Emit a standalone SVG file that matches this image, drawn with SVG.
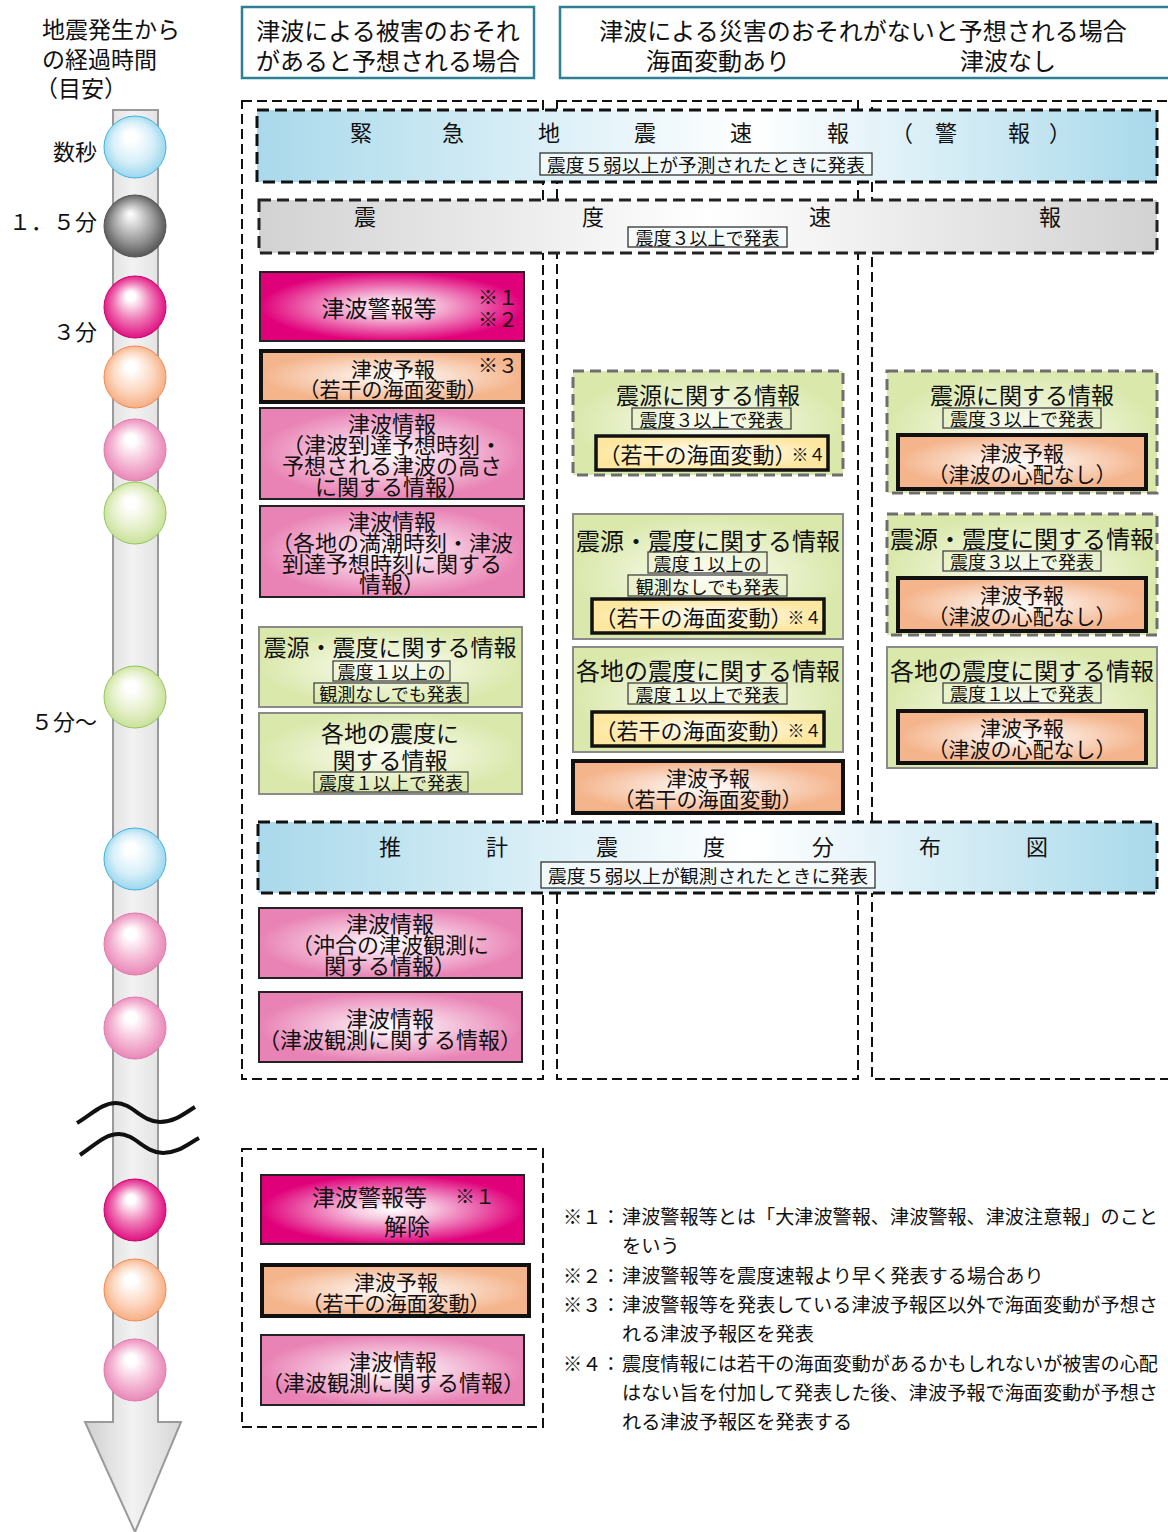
<svg xmlns="http://www.w3.org/2000/svg" width="1168" height="1532" viewBox="0 0 1168 1532">
<defs>
<style>
text { font-family: "Noto Sans CJK JP", "Noto Sans CJK SC", sans-serif; fill:#111; dominant-baseline: central; }
.m { text-anchor: middle; }
.f17 { font-size:17px; } .f18 { font-size:18px; } .f20 { font-size:20px; } .f21 { font-size:21px; } .f22 { font-size:22px; } .f23 { font-size:23px; } .f24 { font-size:24px; }
.hdr { fill:#fff; stroke:#2b8193; stroke-width:2.5; }
.col { fill:none; stroke:#111; stroke-width:2; stroke-dasharray:10 5; }
.bnrB { fill:url(#gBlue); stroke:#111; stroke-width:3; stroke-dasharray:12 6; }
.bnrG { fill:url(#gGray); stroke:#222; stroke-width:3; stroke-dasharray:12 6; }
.blab { fill:#f4fafc; fill-opacity:0.85; stroke:#333; stroke-width:1.3; }
.lab { fill:none; stroke:#444; stroke-width:1.3; }
.mag { fill:url(#gMag); stroke:#222; stroke-width:2; }
.pnk { fill:url(#gPink); stroke:#222; stroke-width:2; }
.org { fill:url(#gOrg); stroke:#111; stroke-width:4; }
.grn { fill:url(#gGrn); stroke:#8a8a8a; stroke-width:2; }
.grnd { fill:url(#gGrn); stroke:#6e6e6e; stroke-width:3; stroke-dasharray:11 6; }
.yel { fill:url(#gYel); stroke:#111; stroke-width:3.5; }
.wave { fill:none; stroke:#111; stroke-width:4; }
.note { font-size:19.2px; }
</style>
<linearGradient id="gBlue" x1="0" y1="0" x2="1" y2="0">
<stop offset="0" stop-color="#a9d9eb"/><stop offset="0.55" stop-color="#ffffff"/><stop offset="1" stop-color="#a9d9eb"/>
</linearGradient>
<linearGradient id="gGray" x1="0" y1="0" x2="1" y2="0">
<stop offset="0" stop-color="#d2d2d2"/><stop offset="0.5" stop-color="#ffffff"/><stop offset="1" stop-color="#d2d2d2"/>
</linearGradient>
<radialGradient id="gMag" cx="0.5" cy="0.5" r="0.5"><stop offset="0" stop-color="#ffffff"/><stop offset="0.3" stop-color="#f6c6df"/><stop offset="1" stop-color="#e0007a"/></radialGradient>
<radialGradient id="gPink" cx="0.5" cy="0.5" r="0.5"><stop offset="0" stop-color="#ffffff"/><stop offset="1" stop-color="#e983b5"/></radialGradient>
<radialGradient id="gOrg" cx="0.5" cy="0.5" r="0.5"><stop offset="0" stop-color="#ffffff"/><stop offset="1" stop-color="#f4b48c"/></radialGradient>
<radialGradient id="gGrn" cx="0.5" cy="0.5" r="0.5"><stop offset="0" stop-color="#fdfef7"/><stop offset="1" stop-color="#dae8ac"/></radialGradient>
<radialGradient id="gYel" cx="0.5" cy="0.5" r="0.5"><stop offset="0" stop-color="#ffffff"/><stop offset="1" stop-color="#fde7a0"/></radialGradient>
<linearGradient id="gShaft" x1="0" y1="0" x2="1" y2="0">
<stop offset="0" stop-color="#cfcfcf"/><stop offset="0.5" stop-color="#f2f2f2"/><stop offset="1" stop-color="#d6d6d6"/>
</linearGradient>
<radialGradient id="bBlue" cx="0.5" cy="0.5" r="0.55" fx="0.42" fy="0.3"><stop offset="0" stop-color="#fff"/><stop offset="0.15" stop-color="#fff"/><stop offset="0.6" stop-color="#d6eff8"/><stop offset="1" stop-color="#8fd2ec"/></radialGradient>
<radialGradient id="bGray" cx="0.5" cy="0.5" r="0.55" fx="0.42" fy="0.3"><stop offset="0" stop-color="#fff"/><stop offset="0.13" stop-color="#eee"/><stop offset="0.6" stop-color="#9a9a9a"/><stop offset="1" stop-color="#4a4a4a"/></radialGradient>
<radialGradient id="bMag" cx="0.5" cy="0.5" r="0.55" fx="0.42" fy="0.3"><stop offset="0" stop-color="#fff"/><stop offset="0.13" stop-color="#fff"/><stop offset="0.55" stop-color="#ef78b5"/><stop offset="1" stop-color="#dc0078"/></radialGradient>
<radialGradient id="bOrg" cx="0.5" cy="0.5" r="0.55" fx="0.42" fy="0.3"><stop offset="0" stop-color="#fff"/><stop offset="0.15" stop-color="#fff"/><stop offset="0.6" stop-color="#fcd6be"/><stop offset="1" stop-color="#f6a679"/></radialGradient>
<radialGradient id="bPnk" cx="0.5" cy="0.5" r="0.55" fx="0.42" fy="0.3"><stop offset="0" stop-color="#fff"/><stop offset="0.15" stop-color="#fff"/><stop offset="0.6" stop-color="#f4b7d4"/><stop offset="1" stop-color="#e67fb2"/></radialGradient>
<radialGradient id="bGrn" cx="0.5" cy="0.5" r="0.55" fx="0.42" fy="0.3"><stop offset="0" stop-color="#fff"/><stop offset="0.15" stop-color="#fff"/><stop offset="0.6" stop-color="#e5f0c9"/><stop offset="1" stop-color="#c4de90"/></radialGradient>
</defs>

<rect x="0" y="0" width="1168" height="1532" fill="#fff"/>

<!-- timeline -->
<g id="timeline">
<text x="42" y="28" class="f23">地震発生から</text>
<text x="42" y="58" class="f23">の経過時間</text>
<text x="35" y="87" class="f23">（目安）</text>
<path d="M113 110 H158 V1422 H181 L135 1532 L85 1422 H113 Z" fill="url(#gShaft)" stroke="#9a9a9a" stroke-width="2"/>
<circle cx="135" cy="147" r="31" fill="url(#bBlue)" stroke="#41b4e0" stroke-width="1"/>
<circle cx="135" cy="226" r="31" fill="url(#bGray)" stroke="#555" stroke-width="1"/>
<circle cx="135" cy="307" r="31" fill="url(#bMag)" stroke="#d0006f" stroke-width="1"/>
<circle cx="135" cy="377" r="31" fill="url(#bOrg)" stroke="#ef8c55" stroke-width="1"/>
<circle cx="135" cy="450" r="31" fill="url(#bPnk)" stroke="#e27aae" stroke-width="1"/>
<circle cx="135" cy="513" r="31" fill="url(#bGrn)" stroke="#8fc860" stroke-width="1"/>
<circle cx="135" cy="697" r="31" fill="url(#bGrn)" stroke="#8fc860" stroke-width="1"/>
<circle cx="135" cy="859" r="31" fill="url(#bBlue)" stroke="#41b4e0" stroke-width="1"/>
<circle cx="135" cy="944" r="31" fill="url(#bPnk)" stroke="#e27aae" stroke-width="1"/>
<circle cx="135" cy="1028" r="31" fill="url(#bPnk)" stroke="#e27aae" stroke-width="1"/>
<circle cx="135" cy="1210" r="31" fill="url(#bMag)" stroke="#d0006f" stroke-width="1"/>
<circle cx="135" cy="1290" r="31" fill="url(#bOrg)" stroke="#ef8c55" stroke-width="1"/>
<circle cx="135" cy="1370" r="31" fill="url(#bPnk)" stroke="#e27aae" stroke-width="1"/>
<path class="wave" d="M77 1123 C92 1114 102 1103 116 1103 C132 1103 142 1122 160 1122 C175 1122 185 1113 195 1107"/>
<path class="wave" d="M80 1155 C95 1145 105 1134 119 1134 C135 1134 145 1153 163 1153 C178 1153 188 1144 199 1138"/>
<text x="97" y="150" class="f22" text-anchor="end">数秒</text>
<text x="97" y="220" class="f22" text-anchor="end">１．５分</text>
<text x="97" y="330" class="f22" text-anchor="end">３分</text>
<text x="97" y="720" class="f22" text-anchor="end">５分〜</text>
</g>

<!-- headers -->
<g id="hdr1">
<rect class="hdr" x="242" y="7" width="292" height="71"/>
<text x="388" y="29" class="m f24">津波による被害のおそれ</text>
<text x="388" y="59" class="m f24">があると予想される場合</text>
</g>
<g id="hdr2">
<rect class="hdr" x="560" y="7" width="620" height="71"/>
<text x="863" y="29" class="m f24">津波による災害のおそれがないと予想される場合</text>
<text x="718" y="59" class="m f24">海面変動あり</text>
<text x="1008" y="59" class="m f24">津波なし</text>
</g>

<!-- column frames -->
<g id="connectors">
<rect class="col" x="242" y="101" width="301" height="978"/>
<rect class="col" x="557" y="101" width="301" height="978"/>
<rect class="col" x="872" y="101" width="320" height="978"/>
<rect class="col" x="242" y="1149" width="301" height="278"/>
</g>

<!-- banners -->
<g id="eew">
<rect class="bnrB" x="257" y="110" width="900" height="72"/>
<g class="f22">
<text x="361" y="131" class="m">緊</text><text x="453" y="131" class="m">急</text><text x="549" y="131" class="m">地</text>
<text x="645" y="131" class="m">震</text><text x="741" y="131" class="m">速</text><text x="838" y="131" class="m">報</text>
<text x="902" y="131" class="m">（</text><text x="946" y="131" class="m">警</text><text x="1019" y="131" class="m">報</text><text x="1060" y="131" class="m">）</text>
</g>
<rect class="blab" x="540" y="153" width="332" height="22"/>
<text x="706" y="164" class="m f18" textLength="318" lengthAdjust="spacingAndGlyphs">震度５弱以上が予測されたときに発表</text>
</g>

<g id="shindo-sokuho">
<rect class="bnrG" x="259" y="200" width="898" height="53"/>
<g class="f22">
<text x="365" y="215" class="m">震</text><text x="593" y="215" class="m">度</text><text x="820" y="215" class="m">速</text><text x="1050" y="215" class="m">報</text>
</g>
<rect class="blab" x="628" y="227" width="159" height="20"/>
<text x="707.5" y="237" class="m f18">震度３以上で発表</text>
</g>

<g id="suikei">
<rect class="bnrB" x="258" y="822" width="899" height="71"/>
<g class="f22">
<text x="390" y="845" class="m">推</text><text x="497" y="845" class="m">計</text><text x="607" y="845" class="m">震</text>
<text x="714" y="845" class="m">度</text><text x="823" y="845" class="m">分</text><text x="930" y="845" class="m">布</text><text x="1037" y="845" class="m">図</text>
</g>
<rect class="blab" x="541" y="862" width="334" height="26"/>
<text x="708" y="875" class="m f18" textLength="320" lengthAdjust="spacingAndGlyphs">震度５弱以上が観測されたときに発表</text>
</g>

<!-- column 1 -->
<g id="c1-warning">
<rect class="mag" x="260" y="272" width="264" height="69"/>
<text x="379" y="307" class="m f23">津波警報等</text>
<text x="478" y="296" class="f20">※１</text>
<text x="478" y="318" class="f20">※２</text>
</g>
<g id="c1-forecast">
<rect class="org" x="261" y="351" width="262" height="51"/>
<text x="393" y="368" class="m f21">津波予報</text>
<text x="478" y="364" class="f20">※３</text>
<text x="393" y="388" class="m f21">（若干の海面変動）</text>
</g>
<g id="c1-info1">
<rect class="pnk" x="260" y="408" width="264" height="91"/>
<text x="392" y="422" class="m f22">津波情報</text>
<text x="392" y="443" class="m f22">（津波到達予想時刻・</text>
<text x="392" y="464" class="m f22">予想される津波の高さ</text>
<text x="392" y="485" class="m f22">に関する情報）</text>
</g>
<g id="c1-info2">
<rect class="pnk" x="260" y="506" width="264" height="91"/>
<text x="392" y="520" class="m f22">津波情報</text>
<text x="392" y="541" class="m f22">（各地の満潮時刻・津波</text>
<text x="392" y="562" class="m f22">到達予想時刻に関する</text>
<text x="392" y="582" class="m f22">情報）</text>
</g>
<g id="c1-hypo">
<rect class="grn" x="259" y="627" width="263" height="80"/>
<text x="390" y="646" class="m f23">震源・震度に関する情報</text>
<rect class="lab" x="333" y="661" width="117" height="20"/>
<text x="391.5" y="671" class="m f18">震度１以上の</text>
<rect class="lab" x="314" y="683" width="154" height="20"/>
<text x="391" y="693" class="m f18">観測なしでも発表</text>
</g>
<g id="c1-local">
<rect class="grn" x="259" y="713" width="263" height="81"/>
<text x="390" y="732" class="m f23">各地の震度に</text>
<text x="390" y="759" class="m f23">関する情報</text>
<rect class="lab" x="314" y="772" width="154" height="20"/>
<text x="391" y="782" class="m f18">震度１以上で発表</text>
</g>
<g id="c1-offshore">
<rect class="pnk" x="259" y="908" width="263" height="70"/>
<text x="390" y="922" class="m f22">津波情報</text>
<text x="390" y="943" class="m f22">（沖合の津波観測に</text>
<text x="390" y="964" class="m f22">関する情報）</text>
</g>
<g id="c1-obs">
<rect class="pnk" x="259" y="992" width="263" height="70"/>
<text x="390" y="1017" class="m f22">津波情報</text>
<text x="390" y="1038" class="m f22">（津波観測に関する情報）</text>
</g>

<!-- column 2 -->
<g id="c2-hypo">
<rect class="grnd" x="573" y="371" width="270" height="104"/>
<text x="708" y="394" class="m f23">震源に関する情報</text>
<rect class="lab" x="632" y="408" width="159" height="21"/>
<text x="711.5" y="418.5" class="m f18">震度３以上で発表</text>
<rect class="yel" x="596" y="436" width="232" height="34"/>
<text x="712" y="453" class="m f22">（若干の海面変動）<tspan class="f17" dx="-5">※４</tspan></text>
</g>
<g id="c2-hyposhindo">
<rect class="grn" x="573" y="514" width="270" height="125"/>
<text x="708" y="539" class="m f24">震源・震度に関する情報</text>
<rect class="lab" x="648" y="552" width="119" height="21"/>
<text x="707.5" y="562.5" class="m f18">震度１以上の</text>
<rect class="lab" x="628" y="575" width="159" height="21"/>
<text x="707.5" y="585.5" class="m f18">観測なしでも発表</text>
<rect class="yel" x="592" y="599" width="232" height="34"/>
<text x="708" y="616" class="m f22">（若干の海面変動）<tspan class="f17" dx="-5">※４</tspan></text>
</g>
<g id="c2-local">
<rect class="grn" x="573" y="647" width="270" height="105"/>
<text x="708" y="669" class="m f24">各地の震度に関する情報</text>
<rect class="lab" x="628" y="683" width="159" height="21"/>
<text x="707.5" y="693.5" class="m f18">震度１以上で発表</text>
<rect class="yel" x="592" y="712" width="232" height="34"/>
<text x="708" y="729" class="m f22">（若干の海面変動）<tspan class="f17" dx="-5">※４</tspan></text>
</g>
<g id="c2-forecast">
<rect class="org" x="573" y="761" width="270" height="52"/>
<text x="708" y="777" class="m f21">津波予報</text>
<text x="708" y="798" class="m f21">（若干の海面変動）</text>
</g>

<!-- column 3 -->
<g id="c3-hypo">
<rect class="grnd" x="887" y="371" width="270" height="122"/>
<text x="1022" y="394" class="m f23">震源に関する情報</text>
<rect class="lab" x="943" y="408" width="158" height="20"/>
<text x="1022" y="418" class="m f18">震度３以上で発表</text>
<rect class="org" x="898" y="435" width="248" height="54"/>
<text x="1022" y="452" class="m f21">津波予報</text>
<text x="1022" y="473" class="m f21">（津波の心配なし）</text>
</g>
<g id="c3-hyposhindo">
<rect class="grnd" x="887" y="514" width="270" height="121"/>
<text x="1022" y="537" class="m f24">震源・震度に関する情報</text>
<rect class="lab" x="943" y="551" width="158" height="20"/>
<text x="1022" y="561" class="m f18">震度３以上で発表</text>
<rect class="org" x="898" y="578" width="248" height="53"/>
<text x="1022" y="594" class="m f21">津波予報</text>
<text x="1022" y="615" class="m f21">（津波の心配なし）</text>
</g>
<g id="c3-local">
<rect class="grn" x="887" y="647" width="270" height="121"/>
<text x="1022" y="669" class="m f24">各地の震度に関する情報</text>
<rect class="lab" x="943" y="683" width="158" height="20"/>
<text x="1022" y="693" class="m f18">震度１以上で発表</text>
<rect class="org" x="898" y="711" width="248" height="52"/>
<text x="1022" y="727" class="m f21">津波予報</text>
<text x="1022" y="748" class="m f21">（津波の心配なし）</text>
</g>

<!-- bottom section -->
<g id="b-cancel">
<rect class="mag" x="261" y="1175" width="263" height="69"/>
<text x="312" y="1196" class="f23">津波警報等</text>
<text x="455" y="1195" class="f20">※１</text>
<text x="407" y="1225" class="m f23">解除</text>
</g>
<g id="b-forecast">
<rect class="org" x="262" y="1265" width="267" height="51"/>
<text x="396" y="1281" class="m f21">津波予報</text>
<text x="396" y="1302" class="m f21">（若干の海面変動）</text>
</g>
<g id="b-obs">
<rect class="pnk" x="261" y="1335" width="263" height="70"/>
<text x="393" y="1360" class="m f22">津波情報</text>
<text x="393" y="1381" class="m f22">（津波観測に関する情報）</text>
</g>

<!-- notes -->
<g id="notes" class="note">
<text x="563" y="1216">※１：</text><text x="622" y="1216" textLength="536" lengthAdjust="spacingAndGlyphs">津波警報等とは「大津波警報、津波警報、津波注意報」のこと</text>
<text x="622" y="1245">をいう</text>
<text x="563" y="1275">※２：</text><text x="622" y="1275">津波警報等を震度速報より早く発表する場合あり</text>
<text x="563" y="1304">※３：</text><text x="622" y="1304" textLength="536" lengthAdjust="spacingAndGlyphs">津波警報等を発表している津波予報区以外で海面変動が予想さ</text>
<text x="622" y="1333">れる津波予報区を発表</text>
<text x="563" y="1363">※４：</text><text x="622" y="1363" textLength="536" lengthAdjust="spacingAndGlyphs">震度情報には若干の海面変動があるかもしれないが被害の心配</text>
<text x="622" y="1392" textLength="536" lengthAdjust="spacingAndGlyphs">はない旨を付加して発表した後、津波予報で海面変動が予想さ</text>
<text x="622" y="1421">れる津波予報区を発表する</text>
</g>
</svg>
